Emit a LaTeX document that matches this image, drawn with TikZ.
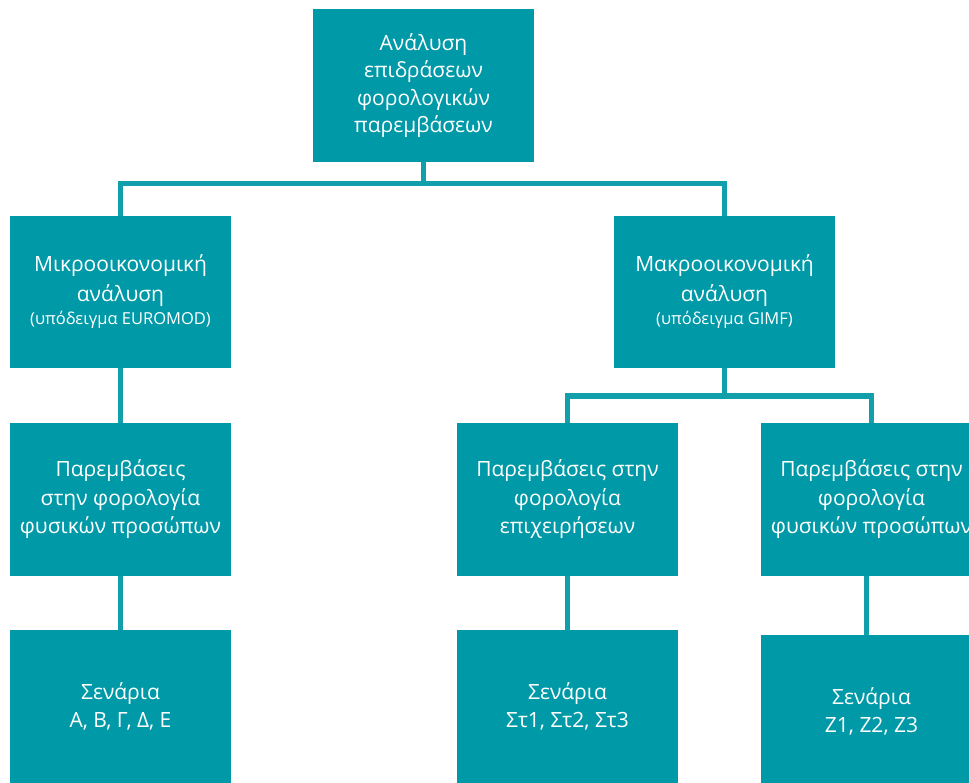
\documentclass[tikz,border=0pt]{standalone}
\usepackage{fontspec}
\setmainfont{Open Sans}
\definecolor{teal1}{HTML}{0099A8}
\definecolor{teal2}{HTML}{129FAC}
\begin{document}
\begin{tikzpicture}[x=1pt,y=-1pt,
  box/.style={rectangle, fill=teal1, text=white, minimum width=221pt, minimum height=153pt,
    inner sep=0pt, align=center, font=\fontsize{21}{28.5}\selectfont},
  link/.style={draw=teal2, line width=5pt}]
\useasboundingbox (0,0) rectangle (969,783);
\node[box, font=\fontsize{21}{27.5}\selectfont] (top) at (423.5,85.5) {Ανάλυση\\επιδράσεων\\φορολογικών\\παρεμβάσεων};
\node[box, minimum height=152pt] (mikro) at (120.5,292) {Μικροοικονομική\\[1pt]ανάλυση\\[-5pt]{\fontsize{16.5}{18}\selectfont (υπόδειγμα EUROMOD)}};
\node[box, minimum height=152pt] (makro) at (724.5,292) {Μακροοικονομική\\[1pt]ανάλυση\\[-5pt]{\fontsize{16.5}{18}\selectfont (υπόδειγμα GIMF)}};
\node[box] (pa) at (120.5,499.5) {Παρεμβάσεις\\στην φορολογία\\φυσικών προσώπων};
\node[box] (pb) at (567.5,499.5) {Παρεμβάσεις στην\\φορολογία\\επιχειρήσεων};
\node[box] (pc) at (871.5,499.5) {Παρεμβάσεις στην\\φορολογία\\φυσικών προσώπων};
\node[box, font=\fontsize{21}{28}\selectfont] (sa) at (120.5,706.5) {Σενάρια\\Α, Β, Γ, Δ, Ε};
\node[box, font=\fontsize{21}{28}\selectfont] (sb) at (567.5,706.5) {Σενάρια\\Στ1, Στ2, Στ3};
\node[box, font=\fontsize{21}{28}\selectfont] (sc) at (871.5,711.5) {Σενάρια\\Z1, Z2, Z3};
\coordinate (bus1) at (0,184);
\coordinate (bus2) at (0,396);
\draw[link] (top.south) -- (top.south |- bus1);
\draw[link] (mikro.north) -- (mikro.north |- bus1) -| (makro.north);
\draw[link] (mikro.south) -- (pa.north);
\draw[link] (makro.south) -- (makro.south |- bus2);
\draw[link] (pb.north) -- (pb.north |- bus2) -| (pc.north);
\draw[link] (pa.south) -- (sa.north);
\draw[link] (pb.south) -- (sb.north);
\draw[link] ([xshift=-5pt]pc.south) -- ([xshift=-5pt]sc.north);
\end{tikzpicture}
\end{document}
